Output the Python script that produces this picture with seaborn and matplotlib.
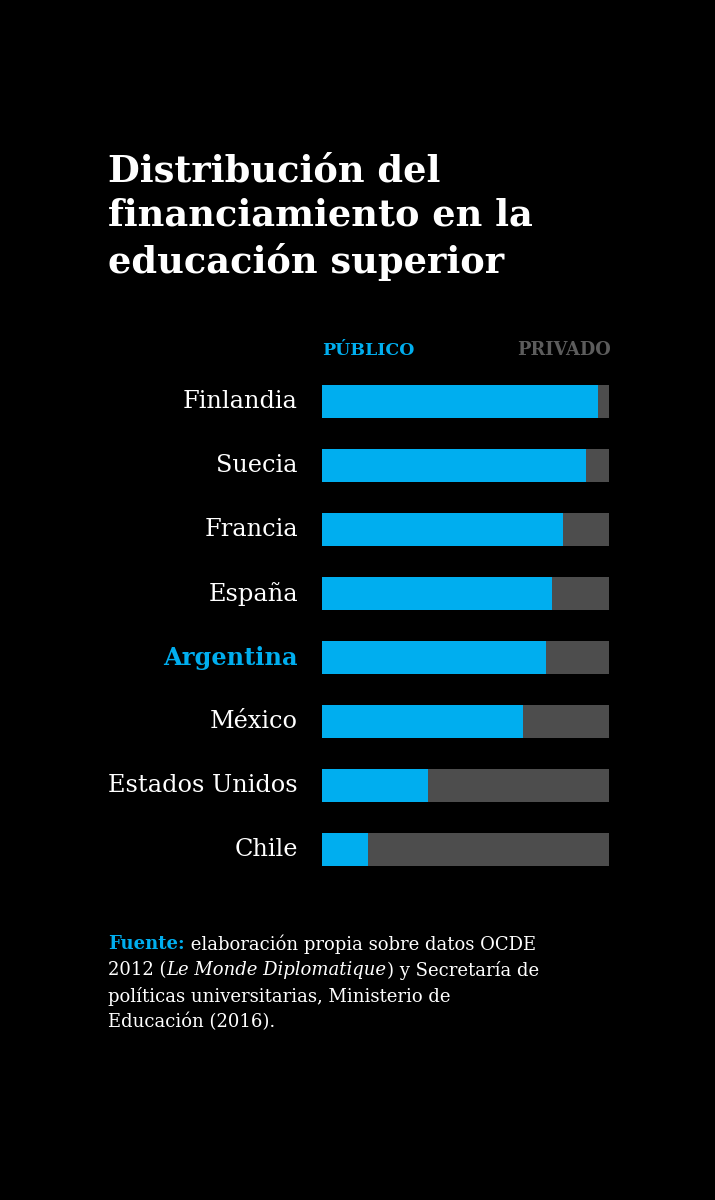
import numpy as np
import pandas as pd
import matplotlib
matplotlib.use("Agg")
import matplotlib.pyplot as plt
import seaborn as sns

# data (percent of higher-education funding)
paises = ["Finlandia", "Suecia", "Francia", "España", "Argentina",
          "México", "Estados Unidos", "Chile"]
publico = [96, 92, 84, 80, 78, 70, 37, 16]
privado = [4, 8, 16, 20, 22, 30, 63, 84]
destacado = "Argentina"

titulo = "Distribución del\nfinanciamiento en la\neducación superior"
BLUE = "#00aeef"
GRAY = "#4d4d4d"
BG = "#000000"

sns.set_theme(style="white")
plt.rcParams["font.family"] = ["DejaVu Serif", "DejaVu Sans"]

df = pd.DataFrame({"pais": paises, "publico": publico, "privado": privado})
df["total"] = df["publico"] + df["privado"]

fig = plt.figure(figsize=(7.15, 12), dpi=100, facecolor=BG)
ax = fig.add_axes([322 / 715, 1 - 881.5 / 1200, (609 - 322) / 715, (881.5 - 370) / 1200])
ax.set_facecolor(BG)

sns.barplot(data=df, x="total", y="pais", color=GRAY, width=0.516,
            saturation=1, linewidth=0, ax=ax, orient="h")
sns.barplot(data=df, x="publico", y="pais", color=BLUE, width=0.516,
            saturation=1, linewidth=0, ax=ax, orient="h")

ax.set_xlim(0, 100)
ax.set_ylim(len(paises) - 0.5, -0.5)
ax.set_xlabel("")
ax.set_ylabel("")
ax.set_xticks([])
ax.set_yticks([])
for s in ax.spines.values():
    s.set_visible(False)

# country labels
for i, p in enumerate(paises):
    if p == destacado:
        ax.text(-8.4, i, p, ha="right", va="center", fontsize=17.3,
                color=BLUE, fontweight="bold", clip_on=False)
    else:
        ax.text(-8.4, i, p, ha="right", va="center", fontsize=17.3,
                color="white", clip_on=False)

# column headers
fig.text(322 / 715, 1 - 350 / 1200, "PÚBLICO", color=BLUE, fontsize=12.5,
         fontweight="bold", ha="left", va="center")
fig.text(611 / 715, 1 - 350 / 1200, "PRIVADO", color="#5c5c5c", fontsize=12.8,
         fontweight="bold", ha="right", va="center")

# title
fig.text(108 / 715, 1 - 153 / 1200, titulo, color="white", fontsize=26.5,
         fontweight="bold", ha="left", va="top", linespacing=1.31)

# footer with mixed styles
fig.canvas.draw()
renderer = fig.canvas.get_renderer()
lines = [
    [("Fuente:", dict(color=BLUE, fontweight="bold")),
     (" elaboración propia sobre datos OCDE", dict(color="white"))],
    [("2012 (", dict(color="white")),
     ("Le Monde Diplomatique", dict(color="white", style="italic")),
     (") y Secretaría de", dict(color="white"))],
    [("políticas universitarias, Ministerio de", dict(color="white"))],
    [("Educación (2016).", dict(color="white"))],
]
y0 = 944
for k, parts in enumerate(lines):
    x = 108
    y = 1 - (y0 + k * 26) / 1200
    for txt, kw in parts:
        t = fig.text(x / 715, y, txt, fontsize=13.0, ha="left", va="center", **kw)
        bb = t.get_window_extent(renderer=renderer)
        x += bb.width

fig.savefig("out.png", dpi=100, facecolor=BG)
